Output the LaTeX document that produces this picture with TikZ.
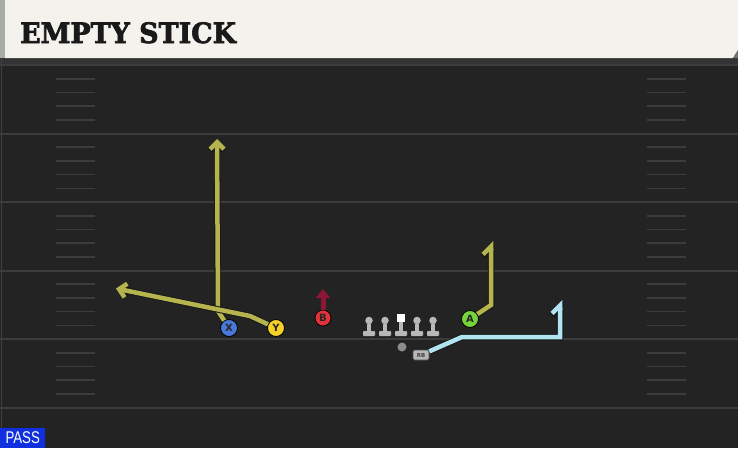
\documentclass[tikz,border=0pt]{standalone}
\usepackage{fontspec}
\setmainfont{DejaVu Serif}
\setsansfont{DejaVu Sans}
\newfontfamily\passfont{Liberation Sans}
\newfontfamily\titlefont[BoldFeatures={FakeBold=2.5}]{DejaVu Serif}
\usetikzlibrary{arrows.meta}
\definecolor{fieldbg}{RGB}{35, 35, 35}
\definecolor{yardgray}{RGB}{60, 60, 60}
\definecolor{headerbg}{RGB}{244, 242, 236}
\definecolor{headeredge}{RGB}{169, 171, 166}
\definecolor{routeyellow}{RGB}{182, 180, 78}
\definecolor{routeblue}{RGB}{176, 228, 240}
\definecolor{xblue}{RGB}{74, 120, 216}
\definecolor{yyellow}{RGB}{245, 208, 40}
\definecolor{bred}{RGB}{226, 50, 60}
\definecolor{barrow}{RGB}{140, 22, 56}
\definecolor{agreen}{RGB}{120, 210, 60}
\definecolor{linegray}{RGB}{184, 184, 184}
\definecolor{passblue}{RGB}{16, 48, 224}

\begin{document}
\begin{tikzpicture}[x=1pt, y=-1pt,
	player/.style={circle, draw=black, line width=0.8pt, minimum size=17pt, inner sep=0pt, text=black!85, font=\sffamily\bfseries\fontsize{10}{10}\selectfont},
	lineman/.style={circle, fill=linegray, minimum size=7.5pt, inner sep=0pt},
	yardline/.style={yardgray, line width=2pt},
	hashmark/.style={yardgray, line width=1.6pt},
	route/.style={line width=4.5pt, preaction={draw=black!90, line width=6.5pt}},
	barb/.style={-{Straight Barb[length=7pt, width=14pt]}},
	hook/.style={-{Straight Barb[harpoon, length=8pt, width=16pt]}}]
	\useasboundingbox (0,0) rectangle (738,448);
	
	% field
	\fill[fieldbg] (0,0) rectangle (738,448);
	\fill[black!80] (0,58) rectangle (738,64);
	\draw[black!75, line width=1pt] (1,58) -- (1,448);
	\foreach \y in {65,133.5,202,270.5,339,407.5}
		\draw[yardline] (0,\y) -- (738,\y);
	\foreach \y in {65,133.5,202,270.5,339}
		\foreach \f in {0.2,0.4,0.6,0.8} {
			\draw[hashmark] (56,\y+68.5*\f) -- (95,\y+68.5*\f);
			\draw[hashmark] (647,\y+68.5*\f) -- (686,\y+68.5*\f);
		}
	
	% header
	\fill[headeredge] (0,0) rectangle (5,58);
	\fill[headerbg] (5,0) -- (738,0) -- (738,50) -- (733,58) -- (5,58) -- cycle;
	\fill[black!55] (738,50) -- (738,58) -- (733,58) -- cycle;
	\node[anchor=base west, inner sep=0pt, text=black!90, font=\titlefont\bfseries\fontsize{28}{28}\selectfont] (title) at (20,43) {\scalebox{0.96}[1]{EMPTY STICK}};
	
	% line
	\coordinate (los) at (0,331);
	\node[lineman] (lt) at (369,320.5) {};
	\node[lineman] (lg) at (385,320.5) {};
	\node[rectangle, fill=white, minimum size=8.5pt, inner sep=0pt] (c) at (401,318) {};
	\node[lineman] (rg) at (417,320.5) {};
	\node[lineman] (rt) at (433,320.5) {};
	\foreach \n in {lt,lg,c,rg,rt} {
		\fill[linegray] ([xshift=-2.2pt]\n.south) rectangle ([xshift=2.2pt]\n |- los);
		\fill[linegray, rounded corners=0.8pt] ([xshift=-6pt]\n |- los) rectangle ([xshift=6pt, yshift=-5pt]\n |- los);
	}
	\node[circle, fill=black!45, minimum size=9pt, inner sep=0pt] (qb) at (402,347) {};
	\node[rectangle, rounded corners=2pt, fill=linegray, draw=black!70, line width=0.6pt, minimum width=16pt, minimum height=10pt, inner sep=0pt, text=black!75, font=\sffamily\bfseries\fontsize{5.5}{5.5}\selectfont] (rb) at (421,355) {RB};
	
	% skill players
	\node[player, fill=xblue] (x) at (229,328) {X};
	\node[player, fill=yyellow] (y) at (276,328) {Y};
	\node[player, fill=bred, minimum size=16pt] (b) at (323,318) {B};
	\node[player, fill=agreen] (a) at (470,319) {A};
	
	% X
	\coordinate (xbend) at (218,311);
	\coordinate (xend) at (217,139);
	\draw[route, routeyellow, barb] (x) -- (xbend) -- (xend);
	% Y
	\coordinate (ybend) at (250,316);
	\coordinate (yend) at (116,288.5);
	\draw[route, routeyellow, barb] (y) -- (ybend) -- (yend);
	% B
	\coordinate (bend) at (323,289);
	\draw[barrow, line width=5pt, -{Triangle[length=9pt, width=14pt]}] (b) -- (bend);
	% A
	\coordinate (abend) at (491,305);
	\coordinate (aend) at (491,241);
	\draw[route, routeyellow, hook] (a) -- (abend) -- (aend);
	% RB
	\coordinate (rbbend) at (462,337);
	\coordinate (rbcorner) at (560,337);
	\coordinate (rbend) at (560,300);
	\draw[route, routeblue, hook] (rb) -- (rbbend) -- (rbcorner) -- (rbend);
	
	% play type
	\node[anchor=south west, fill=passblue, text=white, inner sep=0pt, minimum width=45pt, minimum height=20pt, font=\passfont\fontsize{17}{17}\selectfont] (play) at (0,448) {\scalebox{0.78}[1]{PASS}};
\end{tikzpicture}
\end{document}
